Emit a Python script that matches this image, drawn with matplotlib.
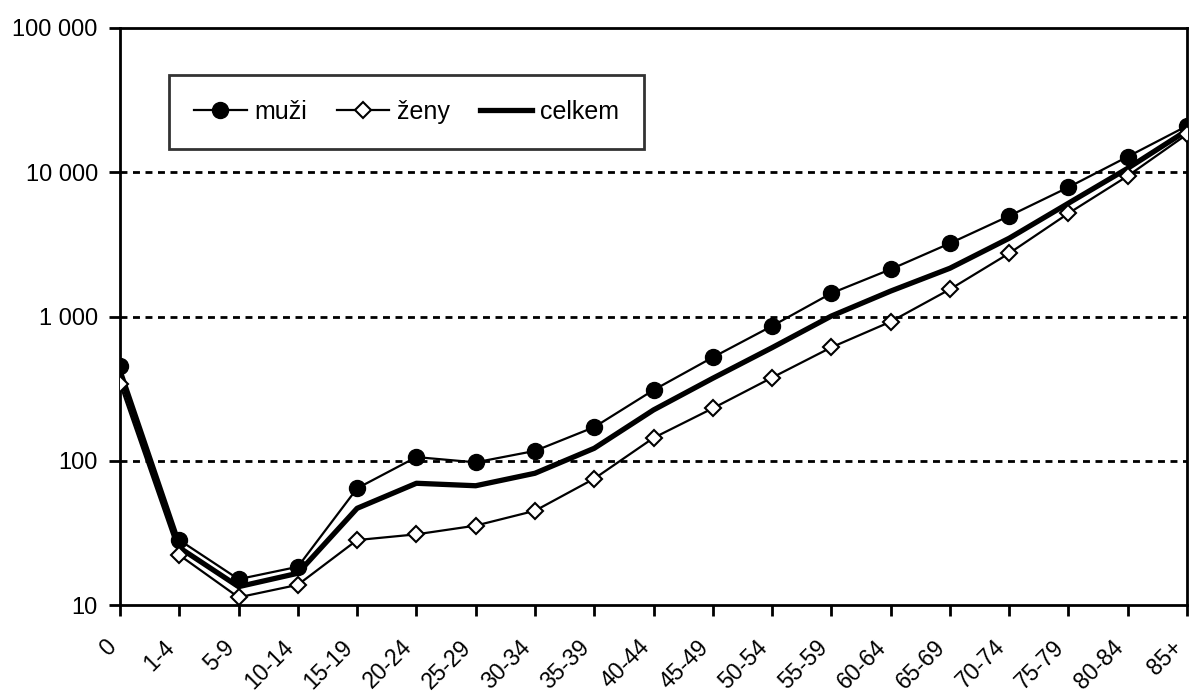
import matplotlib
matplotlib.use('Agg')
from matplotlib import pyplot as plt
from matplotlib import rcParams
from matplotlib.ticker import FixedLocator, FixedFormatter
from matplotlib.transforms import ScaledTranslation

rcParams['font.family'] = ['Liberation Sans', 'DejaVu Sans']

vek = ['0', '1-4', '5-9', '10-14', '15-19', '20-24', '25-29', '30-34', '35-39',
       '40-44', '45-49', '50-54', '55-59', '60-64', '65-69', '70-74', '75-79',
       '80-84', '85+']
muzi = [454, 28.2, 15.1, 18.4, 64.4, 106, 97.5, 117, 171, 309, 521, 859,
        1449, 2124, 3215, 4977, 7870, 12820, 20940]
zeny = [339, 22.2, 11.3, 13.8, 28.2, 30.9, 35.5, 45, 75.1, 144, 231, 377,
        611, 920, 1543, 2742, 5190, 9420, 18320]
celkem = [400, 25, 13.4, 16.6, 46.8, 69.8, 67.1, 81.9, 122, 225, 373, 608,
          1007, 1500, 2160, 3487, 6100, 10650, 19500]
y_ticks = [10, 100, 1000, 10000, 100000]
y_labels = ['10', '100', '1 000', '10 000', '100 000']

fig = plt.figure(figsize=(11.92, 6.93), dpi=100)
ax = fig.add_axes([120/1192, 1-605/693, 1067/1192, 577/693])

x = range(len(vek))
ax.plot(x, muzi, color='black', lw=1.6, marker='o', ms=11.5,
        markerfacecolor='black', label='muži', zorder=4)
ax.plot(x, zeny, color='black', lw=1.6, marker='D', ms=8,
        markerfacecolor='white', markeredgewidth=1.5, label='ženy', zorder=4)
ax.plot(x, celkem, color='black', lw=3.8, label='celkem', zorder=3)

ax.set_yscale('log')
ax.set_ylim(10, 100000)
ax.set_xlim(0, len(vek) - 1)
ax.yaxis.set_major_locator(FixedLocator(y_ticks))
ax.yaxis.set_major_formatter(FixedFormatter(y_labels))
ax.yaxis.set_minor_locator(FixedLocator([]))

ax.tick_params(axis='both', direction='out', length=8, width=2,
               color='black', labelcolor='black')
ax.tick_params(axis='y', labelsize=17, pad=8)
ax.tick_params(axis='x', pad=14)

ax.set_xticks(list(x))
ax.set_xticklabels(vek, rotation=45, ha='right', va='top',
                   rotation_mode='anchor', fontsize=16.5)
# posunout popisky doleva, jako v originale
posun = ScaledTranslation(-16/100, 0, fig.dpi_scale_trans)
for t in ax.get_xticklabels():
    t.set_transform(t.get_transform() + posun)

for s in ax.spines.values():
    s.set_linewidth(2)
    s.set_color('black')

for v in [100, 1000, 10000]:
    ax.axhline(v, color='black', lw=2, dashes=(2.5, 2), zorder=1)

leg = ax.legend(loc='upper left', bbox_to_anchor=(0.046, 0.919), ncol=3,
                fontsize=18, frameon=True, fancybox=False, edgecolor='black',
                handlelength=2.1, handletextpad=0.3, columnspacing=1.2,
                borderpad=1.0, borderaxespad=0)
leg.get_frame().set_linewidth(2)

plt.savefig('out.png', dpi=100)
